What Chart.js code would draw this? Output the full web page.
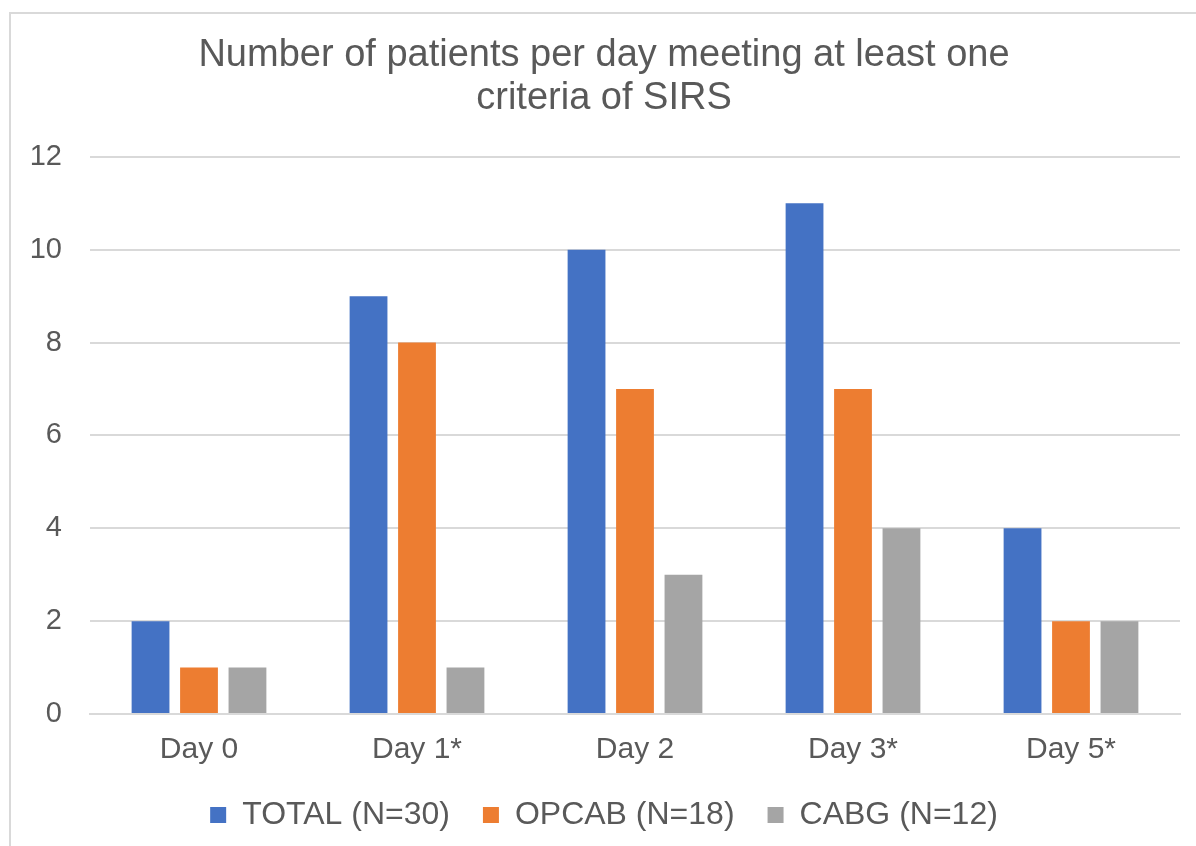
<!DOCTYPE html>
<html>
<head>
<meta charset="utf-8">
<script src="https://cdn.jsdelivr.net/npm/chart.js@4"></script>
<style>
  html, body { margin: 0; padding: 0; overflow: hidden; background: #fff; }
  #frame { position: absolute; left: 9px; top: 12px; width: 1300px; height: 900px;
           border-left: 2px solid #d9d9d9; border-top: 2px solid #d9d9d9; }
  #wrap { position: absolute; left: 0; top: 0; }
</style>
</head>
<body>
<div id="frame"></div>
<div id="wrap"><canvas id="sirsChart" width="1196" height="841"></canvas></div>
<script>
const categories = ['Day 0', 'Day 1*', 'Day 2', 'Day 3*', 'Day 5*'];
const totalVals = [2, 9, 10, 11, 4];
const opcabVals = [1, 8, 7, 7, 2];
const cabgVals = [1, 1, 3, 4, 2];
const yTicks = [0, 2, 4, 6, 8, 10, 12];

const textColor = '#595959';
const fontFamily = '"Liberation Sans", Arial, sans-serif';

const ctx = document.getElementById('sirsChart').getContext('2d');
const chart = new Chart(ctx, {
  type: 'bar',
  data: {
    labels: categories,
    datasets: [
      { label: 'TOTAL (N=30)', data: totalVals, backgroundColor: '#4472C4' },
      { label: 'OPCAB (N=18)', data: opcabVals, backgroundColor: '#ED7D31' },
      { label: 'CABG (N=12)', data: cabgVals, backgroundColor: '#A5A5A5' }
    ]
  },
  options: {
    responsive: false,
    animation: false,
    categoryPercentage: 0.667,
    barPercentage: 0.78,
    layout: { padding: { left: 28, right: 16, top: 0, bottom: 0 } },
    plugins: {
      title: {
        display: true,
        text: ['Number of patients per day meeting at least one', 'criteria of SIRS'],
        color: textColor,
        font: { family: fontFamily, size: 38, weight: 'normal', lineHeight: 1.13 },
        padding: { top: 34, bottom: 37 }
      },
      legend: {
        position: 'bottom',
        labels: {
          color: textColor,
          font: { family: fontFamily, size: 32 },
          boxWidth: 16,
          boxHeight: 16,
          padding: 33
        }
      },
      tooltip: { enabled: false }
    },
    scales: {
      x: {
        grid: { display: false, drawTicks: false },
        border: { color: '#d9d9d9', width: 2 },
        ticks: { color: textColor, font: { family: fontFamily, size: 30 }, padding: 18 },
        afterFit: (scale) => { scale.height = 52; }
      },
      y: {
        min: 0,
        max: 12,
        afterBuildTicks: (scale) => { scale.ticks = yTicks.map(v => ({ value: v })); },
        grid: { color: '#d9d9d9', lineWidth: 2, drawTicks: false },
        border: { display: false },
        ticks: { color: textColor, font: { family: fontFamily, size: 29 }, padding: 28 },
        afterFit: (scale) => { scale.width = 62; }
      }
    }
  }
});
</script>
</body>
</html>
